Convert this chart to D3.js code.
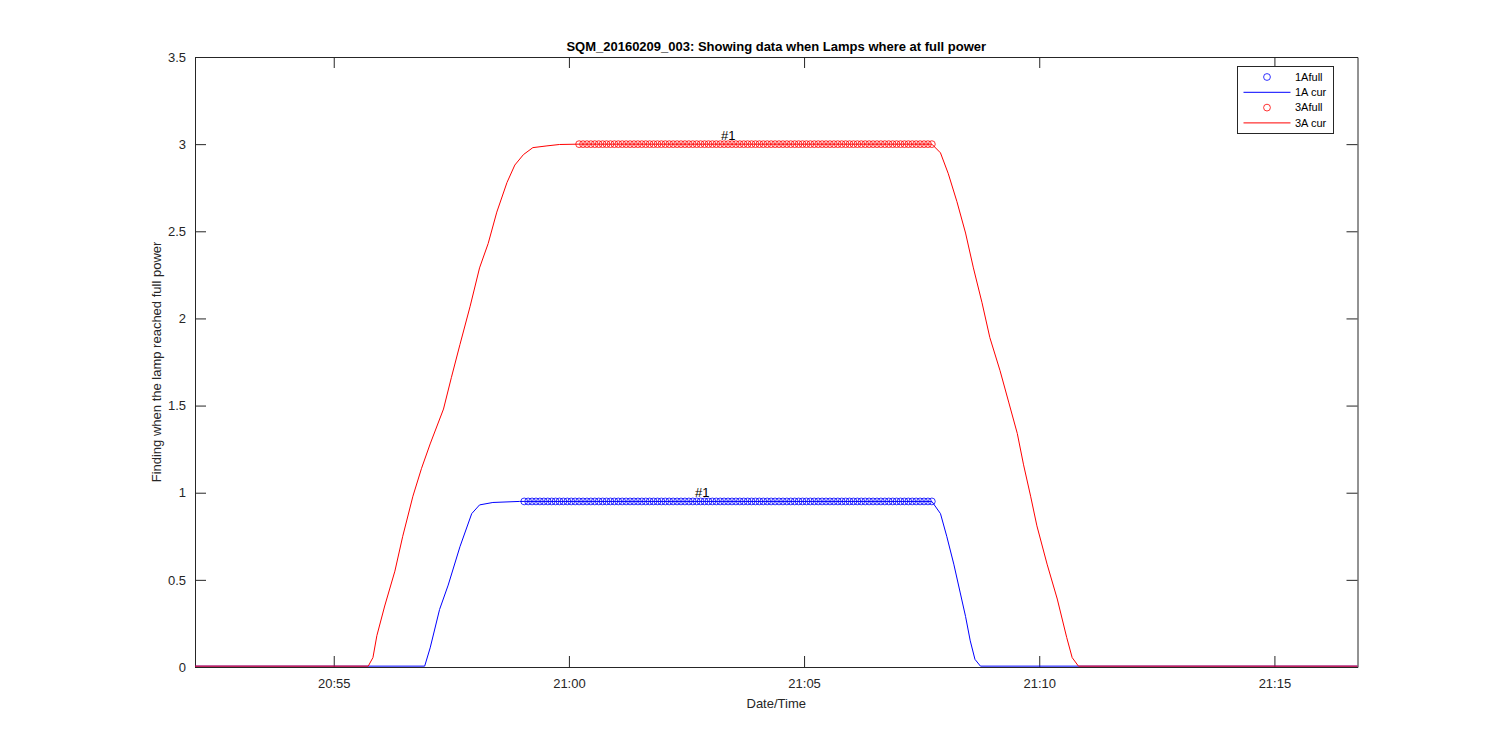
<!DOCTYPE html>
<html>
<head>
<meta charset="utf-8">
<script src="https://cdn.jsdelivr.net/npm/d3@7"></script>
<style>
body { margin:0; background:#fff; }
svg text { font-family: "Liberation Sans", Arial, Helvetica, sans-serif; fill:#262626; }
</style>
</head>
<body>
<div id="chart"></div>
<script>
// times are seconds after 2016-02-09 20:55:00
var baseTime = new Date(2016, 1, 9, 20, 55, 0);
var xDomainSec = [-177, 1306];
var yDomain = [0, 3.5];
var yTicks = [0, 0.5, 1, 1.5, 2, 2.5, 3, 3.5];
var xTickSec = [0, 300, 600, 900, 1200];

// 1A cur (blue line)
var blueCurSec = [-177,116,123,135,146,161,176,186,203,237,243,763,774,782,791,799,806,812,818,825,1306];
var blueCurVal = [0.005,0.005,0.11,0.33,0.47,0.69,0.88,0.93,0.944,0.95,0.95,0.95,0.88,0.75,0.59,0.43,0.29,0.15,0.044,0.005,0.005];

// 3A cur (red line)
var redCurSec = [-177,44,50,55,65,78,88,101,112,123,140,150,161,174,186,197,208,221,231,242,
  254,272,288,313,763,774,784,795,806,816,827,837,850,861,872,880,889,897,910,923,935,942,950,1306];
var redCurVal = [0.005,0.005,0.054,0.18,0.35,0.55,0.75,0.98,1.14,1.28,1.48,1.66,1.85,2.07,2.29,2.43,2.61,2.78,2.88,2.94,
  2.98,2.99,2.998,3.0,3.0,2.95,2.83,2.67,2.49,2.29,2.09,1.89,1.70,1.52,1.34,1.16,0.98,0.81,0.59,0.39,0.17,0.054,0.005,0.005];

// sample times where lamps were at full power
var sampleSec = [243,248,253,258,263,268,273,278,283,288,293,298,303,308,313,318,323,328,333,338,
  343,348,353,358,363,368,373,378,383,388,393,398,403,408,413,418,423,428,433,438,
  443,448,453,458,463,468,473,478,483,488,493,498,503,508,513,518,523,528,533,538,
  543,548,553,558,563,568,573,578,583,588,593,598,603,608,613,618,623,628,633,638,
  643,648,653,658,663,668,673,678,683,688,693,698,703,708,713,718,723,728,733,738,
  743,748,753,758,763];
var blueFullVal = 0.95;
var redFullVal = 3.0;
var redFullStart = 313;

// "#1" annotations
var labelText = ["#1", "#1"];
var labelSec = [494, 461];
var labelVal = [3.05, 1.0];

var legendNames = ["1Afull", "1A cur", "3Afull", "3A cur"];

function toDate(s) { return new Date(baseTime.getTime() + s * 1000); }

var w = 1500, h = 750;
var margins = {top:57, bottom:83, left:195, right:142.5};

var svg = d3.select("#chart").append("svg")
  .attr("width", w)
  .attr("height", h);

var x = d3.scaleTime()
  .domain(xDomainSec.map(toDate))
  .range([margins.left, w - margins.right]);
var y = d3.scaleLinear()
  .domain(yDomain)
  .range([h - margins.bottom, margins.top]);

var axisColor = "#262626";
var tickLen = 11;

// axes
var xAxis = d3.axisBottom(x)
  .tickValues(xTickSec.map(toDate))
  .tickFormat(d3.timeFormat("%H:%M"))
  .tickSizeInner(-tickLen).tickSizeOuter(0).tickPadding(12);
var xAxisTop = d3.axisTop(x)
  .tickValues(xTickSec.map(toDate))
  .tickFormat("")
  .tickSizeInner(-tickLen).tickSizeOuter(0);
var yAxis = d3.axisLeft(y)
  .tickValues(yTicks)
  .tickFormat(d3.format("~g"))
  .tickSizeInner(-tickLen).tickSizeOuter(0).tickPadding(9);
var yAxisRight = d3.axisRight(y)
  .tickValues(yTicks)
  .tickFormat("")
  .tickSizeInner(-tickLen).tickSizeOuter(0);

var gx = svg.append("g").attr("transform", "translate(0," + (h - margins.bottom) + ")").call(xAxis);
var gxt = svg.append("g").attr("transform", "translate(0," + margins.top + ")").call(xAxisTop);
var gy = svg.append("g").attr("transform", "translate(" + margins.left + ",0)").call(yAxis);
var gyr = svg.append("g").attr("transform", "translate(" + (w - margins.right) + ",0)").call(yAxisRight);

[gx, gxt, gy, gyr].forEach(function(g) {
  g.attr("font-family", null).attr("font-size", 13);
  g.selectAll("path.domain").attr("stroke", axisColor);
  g.selectAll(".tick line").attr("stroke", axisColor);
  g.selectAll(".tick text").attr("fill", axisColor);
});

// lines
var line = d3.line()
  .x(function(d) { return x(toDate(d[0])); })
  .y(function(d) { return y(d[1]); });

var bluePts = d3.zip(blueCurSec, blueCurVal);
var redPts = d3.zip(redCurSec, redCurVal);

var plot = svg.append("g");

plot.append("g").selectAll("circle")
  .data(sampleSec)
  .enter().append("circle")
  .attr("cx", function(d) { return x(toDate(d)); })
  .attr("cy", y(blueFullVal))
  .attr("r", 3.4)
  .attr("fill", "none")
  .attr("stroke", "#0000ff")
  .attr("stroke-width", 0.8);

plot.append("path")
  .datum(bluePts)
  .attr("d", line)
  .attr("fill", "none")
  .attr("stroke", "#0000ff")
  .attr("stroke-width", 1);

plot.append("g").selectAll("circle")
  .data(sampleSec.filter(function(s) { return s >= redFullStart; }))
  .enter().append("circle")
  .attr("cx", function(d) { return x(toDate(d)); })
  .attr("cy", y(redFullVal))
  .attr("r", 3.4)
  .attr("fill", "none")
  .attr("stroke", "#ff0000")
  .attr("stroke-width", 0.8);

plot.append("path")
  .datum(redPts)
  .attr("d", line)
  .attr("fill", "none")
  .attr("stroke", "#ff0000")
  .attr("stroke-width", 1);

plot.selectAll("text.lbl")
  .data(labelText)
  .enter().append("text")
  .attr("class", "lbl")
  .attr("x", function(d, i) { return x(toDate(labelSec[i])); })
  .attr("y", function(d, i) { return y(labelVal[i]); })
  .attr("dy", "0.35em")
  .attr("font-size", 13)
  .style("fill", "#000")
  .text(function(d) { return d; });

// labels
var labels = svg.append("g").classed("labels", true);
labels.append("text")
  .text("SQM_20160209_003: Showing data when Lamps where at full power")
  .attr("text-anchor", "middle")
  .attr("font-weight", "bold")
  .attr("font-size", 13)
  .style("fill", "#000")
  .attr("x", (margins.left + w - margins.right) / 2)
  .attr("y", 51);
labels.append("text")
  .text("Date/Time")
  .attr("text-anchor", "middle")
  .attr("font-size", 13)
  .attr("x", (margins.left + w - margins.right) / 2)
  .attr("y", 708);
labels.append("text")
  .text("Finding when the lamp reached full power")
  .attr("text-anchor", "middle")
  .attr("font-size", 13)
  .attr("transform", "translate(161," + ((margins.top + h - margins.bottom) / 2) + ") rotate(-90)");

// legend
var lg = svg.append("g").attr("transform", "translate(1237.5,66.5)");
lg.append("rect")
  .attr("width", 96).attr("height", 67)
  .attr("fill", "#fff").attr("stroke", axisColor).attr("stroke-width", 1);
var colors = ["#0000ff", "#0000ff", "#ff0000", "#ff0000"];
legendNames.forEach(function(name, i) {
  var cy = 10.5 + i * 15.3;
  if (i % 2 === 0) {
    lg.append("circle").attr("cx", 29.5).attr("cy", cy).attr("r", 3.4)
      .attr("fill", "none").attr("stroke", colors[i]).attr("stroke-width", 0.8);
  } else {
    lg.append("line").attr("x1", 6).attr("x2", 53).attr("y1", cy).attr("y2", cy)
      .attr("stroke", colors[i]).attr("stroke-width", 1);
  }
  lg.append("text").attr("x", 57.5).attr("y", cy).attr("dy", "0.35em")
    .attr("font-size", 11).style("fill", "#000").text(name);
});
</script>
</body>
</html>
